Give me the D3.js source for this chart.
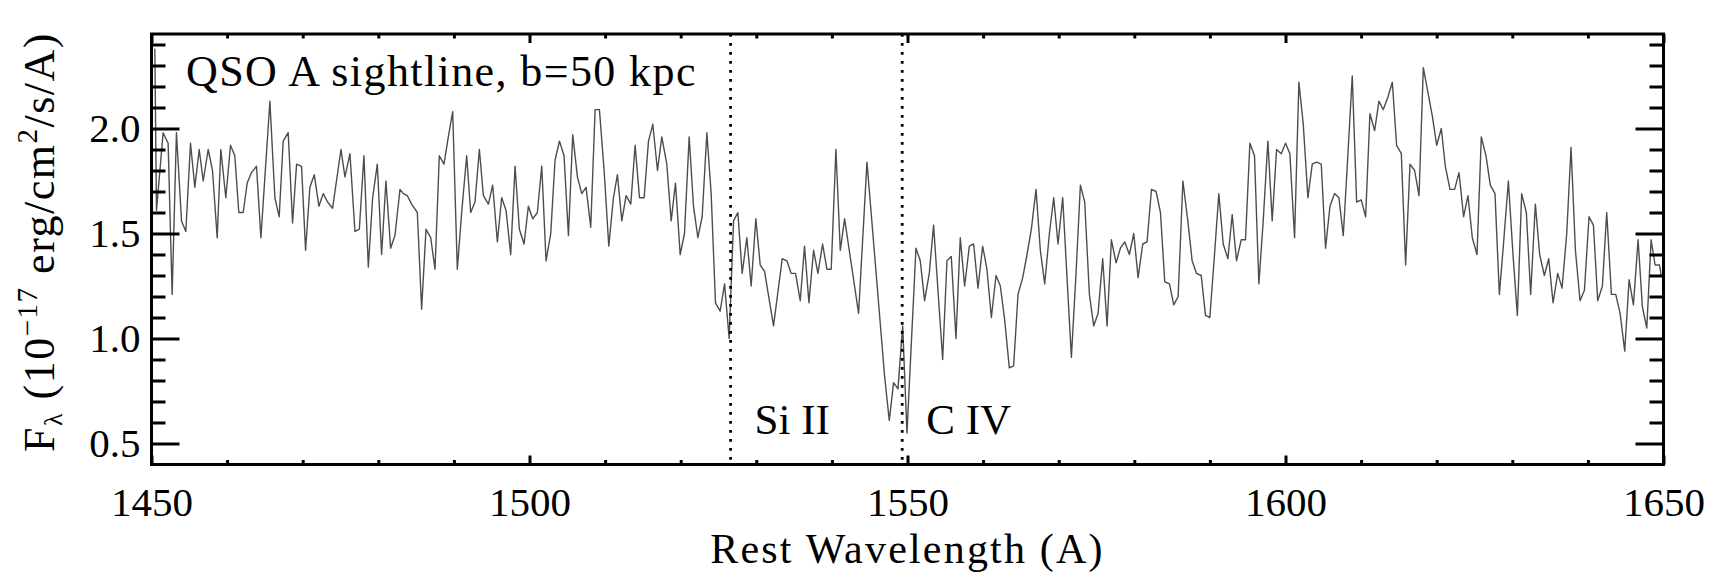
<!DOCTYPE html>
<html><head><meta charset="utf-8">
<script src="https://cdn.jsdelivr.net/npm/d3@7"></script>
<style>
body{margin:0;background:#fff}
text{font-family:"Liberation Serif","Times New Roman",serif;fill:#000}
</style>
</head><body>
<svg id="c" width="1726" height="577"></svg>
<script>
// ---------------- data ----------------
const wavelength = [
1450.44,1450.66,1451.54,1452.20,1452.73,1453.30,1453.97,1454.54,1455.16,1455.73,1456.31,1456.84,1457.50,1458.07,1458.69,1459.17,1459.83,1460.45,1461.02,1461.55,
1462.13,1462.66,1463.23,1463.89,1464.47,1465.66,1466.32,1466.89,1467.42,1468.08,1468.66,1469.19,1469.85,1470.38,1470.95,1471.53,1472.14,1472.72,1473.29,1473.95,
1475.06,1475.59,1476.25,1476.91,1477.49,1478.10,1478.68,1479.25,1479.87,1480.44,1481.01,1481.63,1482.20,1482.87,1483.31,1483.84,1484.41,1485.16,1485.73,1486.31,
1486.93,1487.50,1488.07,1488.69,1489.26,1489.84,1490.45,1491.03,1491.69,1492.22,1492.79,1493.37,1493.90,1494.56,1495.13,1495.75,1496.32,1496.90,1497.51,1498.09,
1498.66,1499.28,1499.85,1500.43,1501.04,1501.62,1502.19,1502.81,1503.38,1503.96,1504.57,1505.15,1505.72,1506.34,1506.91,1507.48,1508.10,1508.68,1509.25,1509.87,
1510.49,1511.10,1511.63,1512.21,1512.78,1513.40,1513.97,1514.55,1515.16,1515.74,1516.31,1516.93,1517.50,1518.16,1518.74,1519.31,1519.93,1520.50,1521.12,1521.69,
1522.27,1522.84,1523.46,1524.03,1524.60,1525.22,1525.80,1526.41,1526.99,1527.56,1528.13,1528.75,1529.32,1529.94,1530.52,1531.09,1532.28,1533.43,1534.05,1534.62,
1535.19,1535.81,1536.38,1536.96,1537.58,1538.15,1538.77,1539.34,1539.91,1540.53,1541.11,1541.68,1543.53,1544.64,1546.40,1546.97,1547.59,1548.16,1548.74,1549.36,
1549.93,1551.12,1551.69,1552.26,1552.88,1553.45,1554.03,1554.65,1555.22,1555.79,1556.41,1556.98,1557.56,1558.18,1558.75,1559.32,1559.94,1560.51,1561.09,1561.71,
1562.28,1562.85,1563.47,1564.04,1564.62,1565.24,1565.81,1566.38,1567.00,1567.57,1568.15,1568.77,1569.34,1569.91,1570.53,1571.10,1571.68,1572.29,1572.87,1573.44,
1574.06,1574.63,1575.21,1575.82,1576.40,1576.97,1577.59,1578.16,1578.74,1579.35,1579.93,1580.50,1581.12,1581.69,1582.27,1582.88,1583.46,1584.03,1584.65,1585.22,
1585.80,1586.43,1587.08,1587.65,1588.23,1588.85,1589.42,1589.99,1590.61,1591.18,1591.76,1592.38,1592.95,1593.52,1594.14,1594.71,1595.29,1595.90,1596.48,1597.05,
1597.67,1598.24,1598.82,1599.43,1600.01,1600.58,1601.20,1601.77,1602.35,1602.96,1603.54,1604.11,1604.73,1605.30,1605.88,1606.49,1607.07,1607.64,1608.26,1608.83,
1609.41,1610.02,1610.60,1611.17,1611.79,1612.36,1612.94,1613.55,1614.13,1614.70,1615.32,1615.89,1616.47,1617.08,1617.66,1618.23,1618.85,1619.42,1620.00,1620.61,
1621.14,1621.76,1622.37,1622.95,1623.56,1624.14,1624.71,1625.33,1625.90,1626.52,1627.09,1627.71,1628.29,1628.90,1629.48,1630.09,1630.67,1631.24,1631.86,1632.43,
1633.05,1633.62,1634.24,1634.82,1635.39,1636.01,1636.58,1637.20,1637.77,1638.35,1638.96,1639.54,1640.15,1640.73,1641.30,1641.92,1642.49,1643.11,1643.68,1644.26,
1644.87,1645.45,1646.02,1646.64,1647.21,1647.79,1648.36,1648.89,1649.47,1649.70
];
const flux = [
2.38,1.61,1.98,1.93,1.21,1.98,1.56,1.51,1.93,1.72,1.90,1.75,1.90,1.80,1.48,1.90,1.67,1.92,1.87,1.60,
1.60,1.74,1.79,1.82,1.48,2.13,1.67,1.58,1.94,1.98,1.55,1.83,1.82,1.42,1.72,1.78,1.63,1.69,1.65,1.62,
1.90,1.77,1.88,1.51,1.52,1.87,1.34,1.67,1.83,1.40,1.75,1.43,1.49,1.71,1.69,1.68,1.64,1.60,1.14,1.52,
1.48,1.33,1.87,1.83,1.96,2.08,1.33,1.60,1.87,1.60,1.65,1.90,1.68,1.64,1.73,1.46,1.67,1.61,1.40,1.82,
1.52,1.45,1.63,1.57,1.60,1.82,1.37,1.50,1.85,1.94,1.87,1.49,1.97,1.77,1.69,1.72,1.53,2.09,2.09,1.80,
1.44,1.67,1.78,1.56,1.68,1.64,1.92,1.67,1.67,1.94,2.02,1.80,1.96,1.83,1.56,1.74,1.40,1.50,1.96,1.63,
1.48,1.58,1.98,1.69,1.17,1.13,1.26,1.00,1.56,1.60,1.31,1.48,1.25,1.57,1.35,1.32,1.06,1.38,1.37,1.31,
1.31,1.18,1.44,1.17,1.42,1.31,1.45,1.33,1.33,1.90,1.42,1.57,1.12,1.84,1.07,0.82,0.61,0.79,0.76,1.06,
0.55,1.43,1.37,1.18,1.31,1.54,1.23,0.90,1.37,1.39,1.00,1.48,1.25,1.44,1.45,1.24,1.44,1.33,1.10,1.30,
1.25,1.09,0.86,0.87,1.21,1.29,1.40,1.52,1.71,1.42,1.26,1.50,1.67,1.45,1.67,1.29,0.91,1.31,1.73,1.65,
1.21,1.06,1.12,1.38,1.06,1.47,1.36,1.43,1.46,1.40,1.50,1.29,1.45,1.46,1.71,1.70,1.60,1.27,1.26,1.16,
1.20,1.75,1.56,1.37,1.31,1.30,1.11,1.10,1.40,1.69,1.45,1.38,1.59,1.37,1.47,1.47,1.93,1.87,1.26,1.56,
1.94,1.56,1.90,1.88,1.93,1.88,1.48,2.22,2.02,1.67,1.83,1.84,1.83,1.43,1.63,1.69,1.67,1.49,1.88,2.25,
1.65,1.66,1.58,2.07,1.99,2.13,2.09,2.15,2.22,1.92,1.88,1.35,1.83,1.80,1.68,2.29,2.17,2.06,1.92,2.00,
1.82,1.71,1.71,1.79,1.58,1.68,1.48,1.40,1.96,1.87,1.73,1.69,1.21,1.48,1.75,1.40,1.11,1.69,1.60,1.21,
1.64,1.40,1.30,1.38,1.17,1.31,1.24,1.50,1.91,1.42,1.18,1.23,1.58,1.54,1.18,1.25,1.60,1.21,1.21,1.12,
0.94,1.28,1.16,1.47,1.15,1.05,1.47,1.35,1.35,1.30
];
const xTickLabels = [1450, 1500, 1550, 1600, 1650];
const yTickLabels = [0.5, 1.0, 1.5, 2.0];
const lineNames = ["Si II", "C IV"];
const lineWaves = [1526.6, 1549.3];
const titleText = "QSO A sightline, b=50 kpc";
const xTitle = "Rest Wavelength (A)";

// ---------------- layout ----------------
const svg = d3.select("#c");
const m = {l:151.5, r:1663.5, t:34, b:464.5};
const x = d3.scaleLinear().domain([1450,1650]).range([m.l, m.r]);
const y = d3.scaleLinear().domain([0.4,2.45]).range([m.b, m.t]);
const xMinor = d3.range(1460, 1650, 10).filter(v => v % 50 !== 0);
const yMinor = d3.range(6, 25).map(v => v/10).filter(v => Math.round(v*10) % 5 !== 0);

svg.append("defs").append("clipPath").attr("id","clip")
  .append("rect").attr("x",m.l).attr("y",m.t).attr("width",m.r-m.l).attr("height",m.b-m.t);

// spectrum
const pts = wavelength.map((w,i)=>[w, flux[i]]);
svg.append("path").datum(pts)
  .attr("clip-path","url(#clip)")
  .attr("fill","none").attr("stroke","#4d4d4d").attr("stroke-width",1.4)
  .attr("stroke-linejoin","round")
  .attr("d", d3.line().x(d=>x(d[0])).y(d=>y(d[1])));

// dotted line markers
svg.append("g").selectAll("line").data(lineWaves).join("line")
  .attr("x1",d=>x(d)).attr("x2",d=>x(d)).attr("y1",m.t).attr("y2",m.b)
  .attr("stroke","#000").attr("stroke-width",2.8).attr("stroke-dasharray","2.8,6.2");

function styleAxis(g){
  g.select(".domain").remove();
  g.selectAll(".tick line").attr("stroke","#000").attr("stroke-width",3);
  g.selectAll(".tick text").style("font-family",'"Liberation Serif","Times New Roman",serif').style("font-size","41px").attr("fill","#000");
}
const fmt = d3.format(".1f");
// bottom
svg.append("g").attr("transform",`translate(0,${m.b})`)
  .call(d3.axisBottom(x).tickValues(xTickLabels).tickSize(-9).tickPadding(22).tickFormat(d3.format("d"))).call(styleAxis);
svg.append("g").attr("transform",`translate(0,${m.b})`)
  .call(d3.axisBottom(x).tickValues(xMinor).tickSize(-4.5).tickFormat("")).call(styleAxis);
// top
svg.append("g").attr("transform",`translate(0,${m.t})`)
  .call(d3.axisTop(x).tickValues(xTickLabels).tickSize(-9).tickFormat("")).call(styleAxis);
svg.append("g").attr("transform",`translate(0,${m.t})`)
  .call(d3.axisTop(x).tickValues(xMinor).tickSize(-4.5).tickFormat("")).call(styleAxis);
// left
svg.append("g").attr("transform",`translate(${m.l},0)`)
  .call(d3.axisLeft(y).tickValues(yTickLabels).tickSize(-28).tickPadding(11).tickFormat(fmt)).call(styleAxis);
svg.append("g").attr("transform",`translate(${m.l},0)`)
  .call(d3.axisLeft(y).tickValues(yMinor).tickSize(-14).tickFormat("")).call(styleAxis);
// right
svg.append("g").attr("transform",`translate(${m.r},0)`)
  .call(d3.axisRight(y).tickValues(yTickLabels).tickSize(-28).tickFormat("")).call(styleAxis);
svg.append("g").attr("transform",`translate(${m.r},0)`)
  .call(d3.axisRight(y).tickValues(yMinor).tickSize(-14).tickFormat("")).call(styleAxis);

// frame
svg.append("rect").attr("x",m.l).attr("y",m.t).attr("width",m.r-m.l).attr("height",m.b-m.t)
  .attr("fill","none").attr("stroke","#000").attr("stroke-width",3);

// labels
svg.append("text").attr("x",186).attr("y",86).style("font-size","44px").style("letter-spacing","1.4px").text(titleText);
svg.append("g").selectAll("text").data(lineNames).join("text")
  .attr("x",(d,i)=> x(lineWaves[i]) + 24)
  .attr("y",434).style("font-size","43px").text(d=>d);
svg.append("text").attr("x",x(1550)).attr("y",563).attr("text-anchor","middle")
  .style("font-size","42px").style("letter-spacing","2.2px").text(xTitle);

// y-axis title
const yt = svg.append("text").attr("transform","translate(54,242) rotate(-90)")
  .attr("text-anchor","middle").style("font-size","44px").style("letter-spacing","1.5px");
yt.append("tspan").text("F");
yt.append("tspan").attr("dy",8).style("font-size","26px").text("λ");
yt.append("tspan").attr("dy",-8).text(" (10");
yt.append("tspan").attr("dy",-17).style("font-size","29px").text("−17");
yt.append("tspan").attr("dy",17).text(" erg/cm");
yt.append("tspan").attr("dy",-17).style("font-size","29px").text("2");
yt.append("tspan").attr("dy",17).text("/s/A)");
</script>
</body></html>
